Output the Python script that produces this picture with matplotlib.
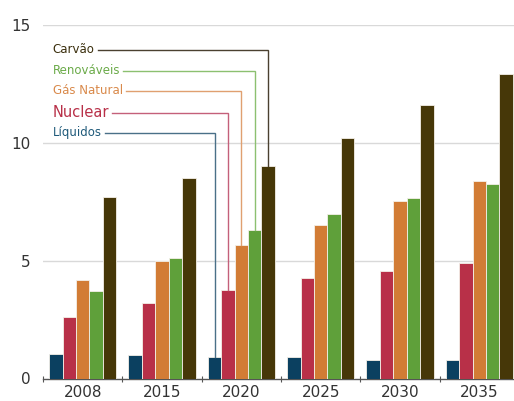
import matplotlib.pyplot as plt
import numpy as np

years = ["2008", "2015", "2020", "2025", "2030", "2035"]
series = ["Líquidos", "Nuclear", "Gás Natural", "Renováveis", "Carvão"]
liquidos = [1.05, 0.98, 0.9, 0.9, 0.8, 0.8]
nuclear = [2.6, 3.22, 3.76, 4.25, 4.58, 4.9]
gas = [4.2, 5.0, 5.67, 6.5, 7.52, 8.4]
renov = [3.7, 5.12, 6.3, 7.0, 7.66, 8.24]
carvao = [7.7, 8.52, 9.02, 10.2, 11.6, 12.94]
values = [liquidos, nuclear, gas, renov, carvao]
colors = ["#0b4060", "#b83048", "#d27c35", "#5fa03a", "#463708"]
line_colors = ["#4a7088", "#c4607a", "#e0a070", "#8cc070", "#4a4030"]
yticks = [0, 5, 10, 15]

fig = plt.figure(figsize=(5.14, 4.01), dpi=100)
W, H = 514, 401
x0, x1 = 43, 519
y0, y1 = 378.5, 25
ax = fig.add_axes([x0 / W, 1 - y0 / H, (x1 - x0) / W, (y0 - y1) / H])
ax.set_xlim(-0.5, 5.5)
ax.set_ylim(0, 15)

bw = 67 / 79.3 / 5
x = np.arange(len(years))
offsets = (np.arange(5) - 2) * bw
for i, (vals, c) in enumerate(zip(values, colors)):
    ax.bar(x + offsets[i], vals, width=bw, color=c, edgecolor="#f4f0e8",
           linewidth=0.6, zorder=3)

for y in yticks[1:]:
    ax.axhline(y, color="#d9d9d9", linewidth=1, zorder=1)

for s in ["top", "right", "left"]:
    ax.spines[s].set_visible(False)
ax.spines["bottom"].set_color("#555555")
ax.spines["bottom"].set_linewidth(1)

ax.set_yticks(yticks)
ax.set_yticklabels([str(v) for v in yticks], fontsize=11, color="#333333")
ax.tick_params(axis="y", length=0, pad=9)

ax.set_xticks(np.arange(-0.5, 5.6, 1.0), minor=False)
ax.set_xticklabels([])
ax.tick_params(axis="x", which="major", length=5, direction="inout", color="#555555")
ax.set_xticks(x, minor=True)
ax.set_xticklabels(years, minor=True, fontsize=11, color="#333333")
ax.tick_params(axis="x", which="minor", length=0, pad=4.5)

# annotation labels (legend) pointing to 2020 bars
label_y = {4: 13.95, 3: 13.05, 2: 12.2, 1: 11.28, 0: 10.43}
label_sizes = {4: 8.5, 3: 8.5, 2: 8.5, 1: 10.5, 0: 8.5}
text_colors = ["#1f5a7a", "#b83048", "#d9894a", "#6aaa48", "#3a2e0c"]
text_x = -0.38
gi = 2
for i in [4, 3, 2, 1, 0]:
    ly = label_y[i]
    t = ax.text(text_x, ly, series[i], fontsize=label_sizes[i], color=text_colors[i],
                va="center", ha="left", zorder=5)
    fig.canvas.draw()
    bb = t.get_window_extent().transformed(ax.transData.inverted())
    xs = bb.x1 + 0.04
    xb = gi + offsets[i]
    ax.plot([xs, xb, xb], [ly, ly, values[i][gi]], color=line_colors[i],
            linewidth=1.0, zorder=4, solid_joinstyle="miter")

fig.savefig("out.png", dpi=100)
